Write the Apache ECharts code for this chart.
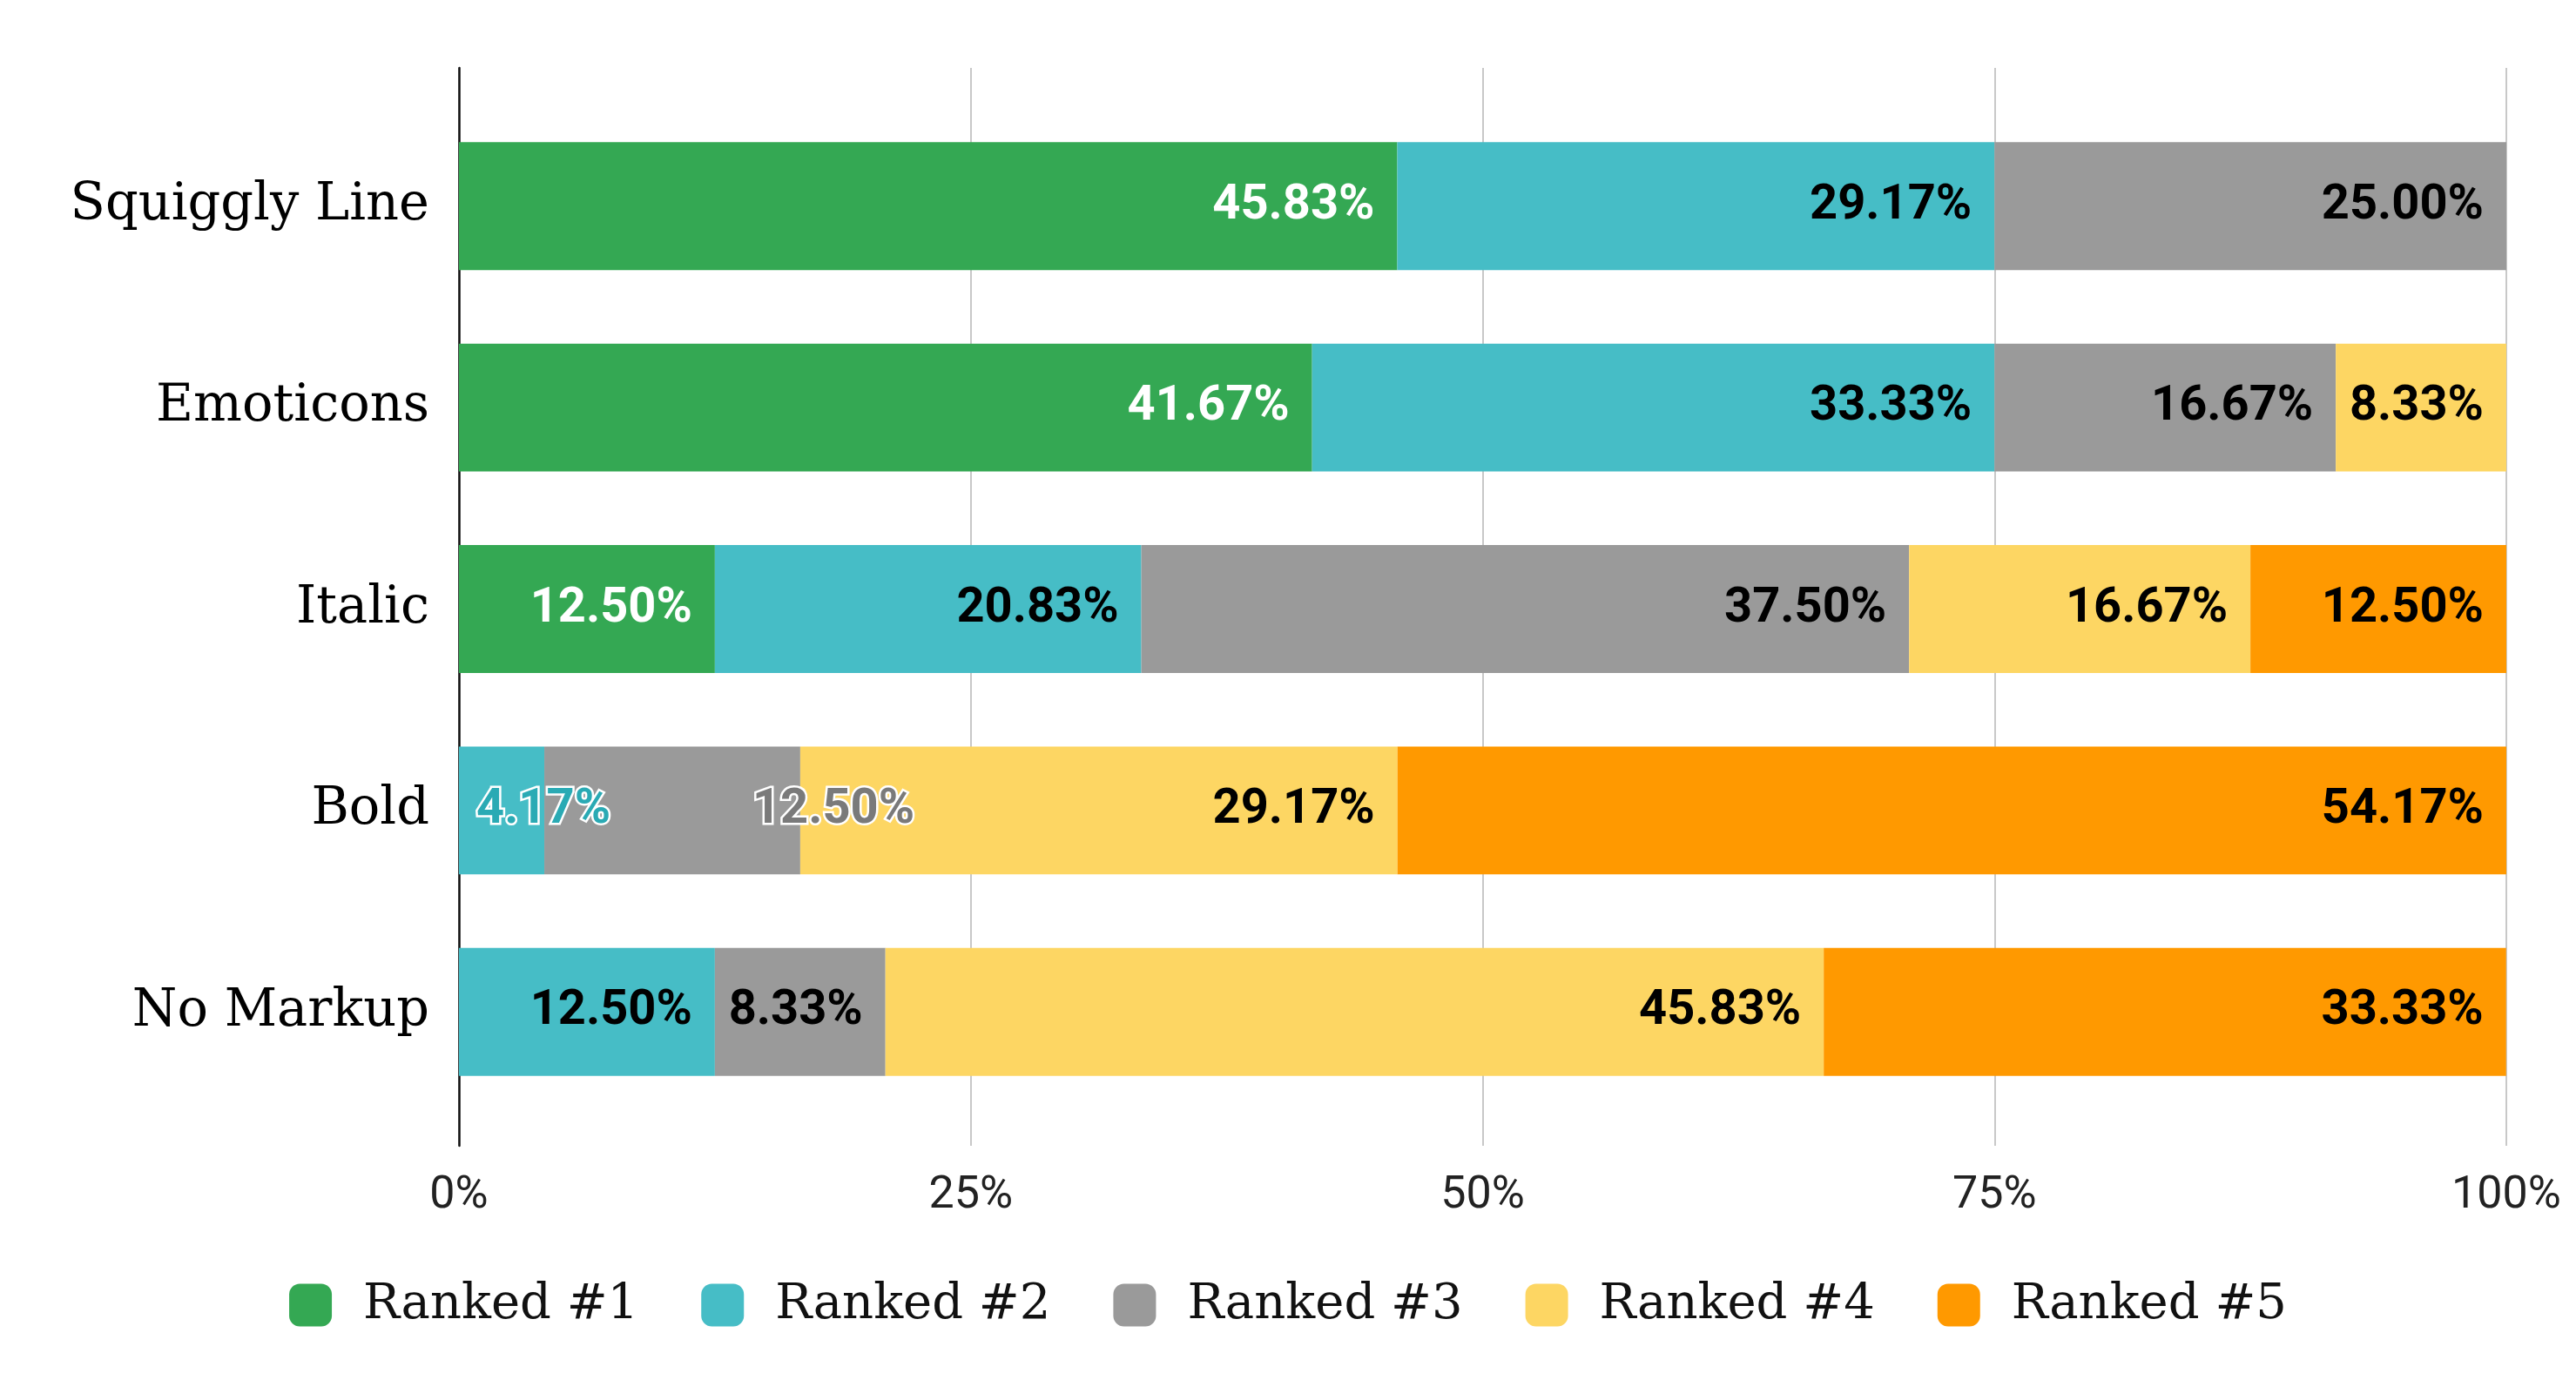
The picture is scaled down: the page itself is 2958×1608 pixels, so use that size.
<!DOCTYPE html>
<html>
<head>
<meta charset="utf-8">
<script src="https://cdn.jsdelivr.net/npm/echarts@6/dist/echarts.min.js"></script>
<style>html,body{margin:0;padding:0;background:#fff}#main{width:2958px;height:1608px}</style>
</head>
<body>
<div id="main"></div>
<script>
const categories = ['Squiggly Line', 'Emoticons', 'Italic', 'Bold', 'No Markup'];
const seriesNames = ['Ranked #1', 'Ranked #2', 'Ranked #3', 'Ranked #4', 'Ranked #5'];
const ranked1 = [45.83, 41.67, 12.50, 0, 0];
const ranked2 = [29.17, 33.33, 20.83, 4.17, 12.50];
const ranked3 = [25.00, 16.67, 37.50, 12.50, 8.33];
const ranked4 = [0, 8.33, 16.67, 29.17, 45.83];
const ranked5 = [0, 0, 12.50, 54.17, 33.33];
const xTicks = [0, 25, 50, 75, 100];

const colors = ['#34a853', '#46bdc6', '#9a9a9a', '#fdd663', '#ff9900'];
const labelColors = ['#ffffff', '#000000', '#000000', '#000000', '#000000'];
const seriesData = [ranked1, ranked2, ranked3, ranked4, ranked5];

const chart = echarts.init(document.getElementById('main'));
const labelFont = 'Roboto, "Liberation Sans", sans-serif';
const serif = '"DejaVu Serif", "Liberation Serif", serif';

const series = seriesData.map((arr, si) => ({
  name: seriesNames[si],
  type: 'bar',
  stack: 'total',
  xAxisIndex: 0,
  yAxisIndex: 0,
  barWidth: '63.5%',
  itemStyle: { color: colors[si] },
  label: {
    show: true,
    position: 'insideRight',
    distance: 26,
    color: labelColors[si],
    fontFamily: labelFont,
    fontWeight: 'bold',
    fontSize: 56,
    formatter: p => p.value > 0 ? p.value.toFixed(2) + '%' : ''
  },
  data: arr.map((v, ci) => {
    // small segments whose labels overflow (Bold row)
    if (ci === 3 && si === 1) {
      return { value: v, label: { position: 'insideLeft', distance: 20, color: '#2aaab4', textBorderColor: '#ffffff', textBorderWidth: 5 } };
    }
    if (ci === 3 && si === 2) {
      return { value: v, label: { position: 'insideRight', distance: 55, align: 'left', color: '#7a7a7a', textBorderColor: '#ffffff', textBorderWidth: 5 } };
    }
    return v;
  })
}));

chart.setOption({
  animation: false,
  backgroundColor: '#ffffff',
  color: colors,
  legend: {
    data: seriesNames,
    left: 'center',
    top: 1466,
    icon: 'roundRect',
    itemWidth: 49,
    itemHeight: 49,
    itemGap: 72,
    textStyle: { fontFamily: serif, fontSize: 56, color: '#111', padding: [0, 0, 0, 31] }
  },
  grid: [
    { left: 527, right: 80, top: 121, height: 1157 },
    { left: 527, right: 80, top: 78, bottom: 292 }
  ],
  xAxis: [
    { type: 'value', gridIndex: 0, min: 0, max: 100, show: false },
    {
      type: 'value', gridIndex: 1, min: 0, max: 100, interval: 25,
      axisLine: { show: false }, axisTick: { show: false },
      splitLine: { show: true, lineStyle: { color: '#c8c8c8', width: 2 } },
      axisLabel: { formatter: '{value}%', fontFamily: labelFont, fontSize: 52, color: '#222', margin: 32 }
    }
  ],
  yAxis: [
    {
      type: 'category', gridIndex: 0, data: categories, inverse: true,
      axisLine: { show: false }, axisTick: { show: false },
      axisLabel: { fontFamily: serif, fontSize: 59, color: '#000', margin: 34 }
    },
    {
      type: 'value', gridIndex: 1, min: 0, max: 1,
      axisLine: { show: true, lineStyle: { color: '#111', width: 2.5 } },
      axisTick: { show: false }, axisLabel: { show: false }, splitLine: { show: false }
    }
  ],
  series: series
});
</script>
</body>
</html>
